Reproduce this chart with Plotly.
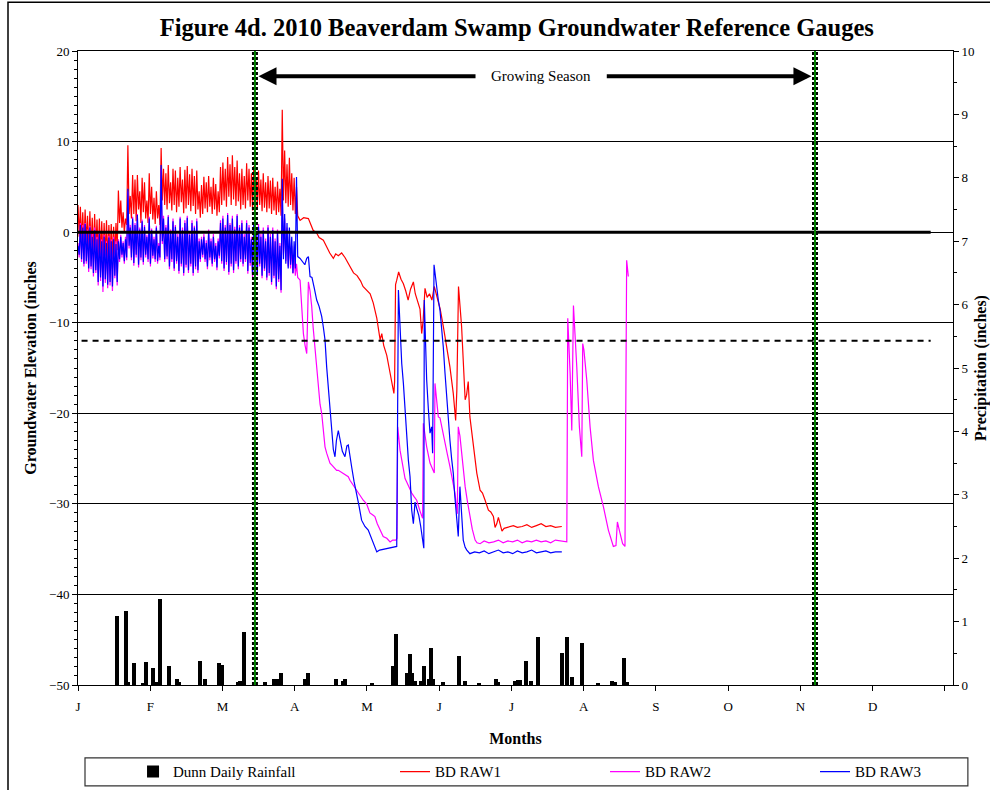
import plotly.graph_objects as go

FONT = "Liberation Serif, Times New Roman, serif"

MONTH_LABELS = ["J", "F", "M", "A", "M", "J", "J", "A", "S", "O", "N", "D", ""]
YEAR_DAYS = 365

GROWING_START = 74.5   # day of year (mid March)
GROWING_END = 310.3    # day of year (early November)
ZERO_LEVEL = 0
THRESHOLD_LEVEL = -12
LINE_END_DAY = 359

# ---- Dunn daily rainfall (day of year, inches) ----
rain_day = [16.3, 20.2, 21.2, 23.6, 27.5, 28.6, 31.6, 32.8, 34.5, 38.4, 41.6, 42.5,
            51.4, 53.5, 59.2, 60.6, 67.2, 68.2, 69.8, 78.7, 82.7, 83.9, 85.6, 95.6,
            96.7, 108.5, 111.5, 112.5, 123.8, 132.8, 133.9, 138.7, 139.7, 140.8, 141.9,
            144.5, 145.7, 147.7, 148.6, 149.6, 153.6, 160.5, 163.1, 169.0, 175.9, 177.0,
            184.0, 185.3, 186.1, 188.8, 190.7, 193.8, 203.7, 205.8, 208.1, 212.2, 219.1,
            225.0, 226.1, 230.0, 231.3]
rain_in = [1.09, 1.17, 0.04, 0.34, 0.03, 0.36, 0.27, 0.04, 1.36, 0.30, 0.09, 0.05,
           0.38, 0.10, 0.34, 0.32, 0.04, 0.07, 0.84, 0.05, 0.10, 0.10, 0.19, 0.10,
           0.19, 0.10, 0.06, 0.10, 0.03, 0.30, 0.80, 0.19, 0.49, 0.19, 0.07,
           0.07, 0.30, 0.10, 0.58, 0.10, 0.04, 0.45, 0.06, 0.03, 0.09, 0.04,
           0.06, 0.08, 0.08, 0.38, 0.06, 0.75, 0.51, 0.75, 0.13, 0.67, 0.03,
           0.07, 0.05, 0.43, 0.05]

# ---- Jan 1 - Apr 2: daily high / low readings (inches) ----
raw1_hi = [3.0, 2.8, 2.2, 2.5, 1.8, 2.3, 1.6, 2.0, 1.4, 1.5, 1.2, 1.0, 1.3, 0.8, 0.9, 0.6, 1.0,
           4.6, 3.5, 2.2, 1.5, 9.6, 4.0, 6.3, 5.8, 6.3, 4.5, 6.0, 5.5, 3.5, 6.5, 5.0, 3.8, 4.5,
           3.0, 9.3, 7.0, 6.5, 7.4, 5.5, 7.0, 6.8, 6.0, 7.2, 5.8, 6.9, 7.3, 6.4, 7.0, 6.2, 6.8,
           4.5, 5.2, 6.1, 5.5, 6.2, 5.0, 6.0, 5.3, 4.5, 7.2, 7.7, 7.0, 8.3, 7.5, 8.5, 7.2, 7.9,
           6.5, 7.0, 6.2, 7.6, 7.0, 6.5, 7.3, 6.0, 6.8, 5.8, 6.5, 5.5, 6.2, 5.7, 6.0, 5.0, 5.6,
           4.8, 13.5, 9.0, 7.5, 8.2, 6.5, 6.0, 5.0]
raw1_lo = [-0.5, -1.0, -1.5, -1.2, -2.0, -1.8, -2.5, -2.0, -2.8, -2.5, -3.0, -2.6, -3.2, -2.8,
           -3.0, -2.5, -2.0, 1.0, 0.5, 0.0, 0.8, 2.0, 1.5, 2.0, 1.2, 2.5, 1.0, 2.2, 1.5, 1.0,
           2.0, 1.4, 0.9, 1.5, 0.8, 3.5, 3.0, 2.5, 3.2, 2.4, 3.0, 2.2, 2.8, 3.3, 2.1, 2.6, 3.0,
           2.3, 2.9, 2.0, 2.5, 1.6, 2.0, 2.6, 2.2, 2.8, 2.0, 2.5, 1.8, 2.2, 3.0, 3.5, 2.8, 3.9,
           3.0, 3.6, 2.9, 3.4, 2.5, 3.0, 2.6, 3.5, 2.8, 2.4, 3.2, 2.6, 3.0, 2.3, 2.7, 2.2, 2.6,
           2.0, 2.4, 1.9, 2.2, 1.8, 3.5, 3.2, 2.8, 3.0, 2.4, 2.0, 1.8]

raw2_hi = [-1.2, 1.0, 0.8, 1.0, 0.3, 0.7, -0.2, 0.5, -0.5, 0.0, -0.8, -0.3, -1.0, -0.4, -0.8,
           -0.5, -1.0, -0.8, -0.3, -1.0, -0.5, 4.5, 0.8, 1.7, 1.0, 2.0, 0.5, 1.4, 0.8, -0.3,
           1.7, 0.4, -0.5, 0.7, -1.2, 7.0, 1.8, 0.8, 1.9, 0.3, 1.5, 0.8, -0.2, 1.7, 0.5, 1.3,
           1.8, 0.0, 1.3, 0.7, 1.5, -0.7, -0.5, -0.2, -0.9, 0.3, -0.7, -0.2, -1.2, -0.7, 1.3,
           1.8, 0.8, 2.1, 1.0, 1.8, 0.6, 2.0, 0.8, 1.3, -0.2, 1.3, 0.8, -0.5, 1.1, 0.0, 0.9,
           -0.2, 0.5, -0.7, 0.8, -0.2, 0.5, -0.7, 0.3, -1.2, 4.0, 1.5, 0.5, -0.5, -1.5, -2.5,
           -3.5]
raw2_lo = [-2.8, -3.3, -3.8, -3.5, -4.4, -4.1, -4.9, -4.5, -5.9, -5.4, -6.6, -5.6, -6.2, -5.9,
           -6.5, -5.1, -5.9, -3.3, -2.8, -3.5, -3.1, -1.8, -3.1, -3.7, -2.8, -3.9, -3.1, -3.6,
           -2.8, -3.3, -3.8, -2.9, -3.3, -3.5, -3.1, -1.3, -3.3, -3.0, -4.1, -3.3, -4.3, -3.5,
           -4.6, -3.8, -4.8, -3.9, -4.5, -3.8, -4.8, -4.1, -4.5, -3.3, -2.8, -3.3, -4.1, -3.1,
           -3.8, -3.3, -4.2, -2.9, -3.5, -4.3, -3.6, -4.7, -3.8, -4.5, -3.5, -4.1, -3.3, -3.8,
           -3.3, -4.6, -3.7, -5.0, -4.1, -4.8, -3.8, -5.1, -4.3, -5.3, -4.8, -5.8, -5.1, -6.3,
           -5.5, -6.7, -2.5, -3.2, -3.8, -4.0, -4.6, -4.8, -5.0]

raw3_hi = [-1.5, 0.8, 0.5, 0.9, 0.0, 0.5, -0.5, 0.2, -0.8, -0.2, -1.0, -0.5, -1.2, -0.6, -1.0,
           -0.8, -1.3, -1.0, -0.5, -1.2, -0.8, 4.8, 0.5, 1.5, 0.8, 1.9, 0.3, 1.2, 0.6, -0.5,
           1.5, 0.2, -0.8, 0.5, -1.5, 7.4, 1.5, 0.5, 1.7, 0.0, 1.2, 0.6, -0.5, 1.5, 0.2, 1.0,
           1.6, -0.3, 1.0, 0.5, 1.2, -1.0, -0.8, -0.5, -1.2, 0.0, -1.0, -0.5, -1.5, -1.0, 1.0,
           1.5, 0.5, 1.9, 0.8, 1.5, 0.3, 1.8, 0.5, 1.0, -0.5, 1.0, 0.5, -0.8, 0.8, -0.3, 0.6,
           -0.5, 0.2, -1.0, 0.5, -0.5, 0.2, -1.0, 0.0, -1.5, 5.9, 2.0, 1.0, 0.5, -0.5, -1.0,
           6.1]
raw3_lo = [-2.5, -3.0, -3.5, -3.2, -4.0, -3.8, -4.5, -4.2, -5.5, -5.0, -6.0, -5.2, -5.8, -5.5,
           -6.0, -4.8, -5.5, -3.0, -2.5, -3.2, -2.8, -1.5, -2.8, -3.4, -2.5, -3.6, -2.8, -3.3,
           -2.5, -3.0, -3.5, -2.6, -3.0, -3.2, -2.8, -1.0, -3.0, -2.7, -3.8, -3.0, -4.0, -3.2,
           -4.3, -3.5, -4.5, -3.6, -4.2, -3.5, -4.5, -3.8, -4.2, -3.0, -2.5, -3.0, -3.8, -2.8,
           -3.5, -3.0, -3.9, -2.6, -3.2, -4.0, -3.3, -4.4, -3.5, -4.2, -3.2, -3.8, -3.0, -3.5,
           -3.0, -4.3, -3.4, -4.7, -3.8, -4.5, -3.5, -4.8, -4.0, -5.0, -4.5, -5.5, -4.8, -6.0,
           -5.2, -6.4, -3.0, -3.5, -4.0, -3.6, -4.5, -4.0, -2.7]

# ---- From Apr 3 onward: individual readings (day of year, inches) ----
raw1_tail_day = [93.5, 95, 97, 99, 100.5, 101.5, 103.3, 105, 106, 107.5, 108.5, 109.6, 111,
                 112.4, 113.5, 115, 116, 117.5, 119, 120, 121.6, 123, 124.3, 125.8, 127.2,
                 127.9, 128.7, 130, 131, 132, 133, 133.3, 133.7, 134.2, 135, 136, 137, 138,
                 139, 140, 141.2, 142, 143, 144, 144.7, 145.3, 146.1, 147, 148, 149, 150,
                 151, 152.5, 153.8, 155.2, 156.6, 158, 159, 159.5, 160.2, 161.5, 162.2, 163,
                 163.6, 164.3, 165, 166.4, 167.9, 169.3, 170.3, 171.4, 172.8, 173.8, 174.9,
                 175.6, 176.3, 177, 177.8, 178.5, 179.4, 181, 183.3, 185, 187, 189, 191, 193,
                 195, 197, 199, 201, 203.7]
raw1_tail_val = [1.3, 1.6, 1.5, 0.2, -0.1, -0.6, -0.9, -1.8, -2.3, -2.9, -2.4, -2.6, -2.3,
                 -2.8, -3.3, -4.0, -4.5, -4.8, -5.4, -6.0, -6.4, -6.8, -7.8, -9.5, -11.9,
                 -11.2, -12.5, -13.6, -15.0, -16.3, -17.8, -16.5, -5.8, -5.3, -4.4, -5.2,
                 -5.7, -6.5, -7.5, -6.3, -5.5, -6.8, -7.8, -8.5, -11.2, -9.8, -6.2, -7.2,
                 -6.8, -7.5, -6.0, -7.0, -8.5, -10.4, -12.7, -14.9, -17.8, -20.8, -17.5,
                 -6.0, -10.4, -14.1, -18.5, -18.0, -16.5, -20.4, -23.3, -26.6, -28.5, -28.8,
                 -29.6, -30.7, -30.9, -31.4, -32.6, -32.2, -31.5, -32.4, -33.0, -32.7, -32.6,
                 -32.4, -32.6, -32.5, -32.3, -32.6, -32.4, -32.2, -32.5, -32.4, -32.6, -32.5]

raw2_tail_day = [93.5, 94.2, 94.9, 95.6, 96.3, 96.7, 97, 97.7, 98.4, 99, 99.8, 100.5, 101.2,
                 101.9, 102.6, 103.3, 104, 104.7, 105.5, 106.1, 106.8, 107.8, 108.9, 109.6,
                 110.7, 111.7, 112.8, 113.8, 114.5, 115.5, 117.3, 118.7, 120.1, 121.5, 122.9,
                 124, 125, 126, 127.2, 128.5, 130, 131.4, 132.5, 133.9, 134.3, 134.6, 135.6,
                 136.3, 137.7, 138.4, 139.8, 140.5, 141.5, 142.6, 144, 145.1, 145.4, 146.8,
                 148.2, 149.6, 150, 150.3, 151, 151.7, 152.4, 153.5, 154.5, 155.5, 156.6,
                 157.7, 158.7, 159.7, 160.1, 160.8, 161.5, 162.2, 163, 164, 165, 166, 167.2,
                 168, 169.3, 171, 173, 175, 177, 179, 181, 183, 185, 187, 189, 191, 193, 195,
                 197, 199, 201, 203, 205.8, 206.2, 207.2, 207.9, 208.6, 210, 211.1, 212.1,
                 212.5, 213, 214.2, 215.6, 217, 219.1, 221.2, 223.3, 224.4, 225.4, 226.5,
                 227.1, 228, 229.3, 230.3, 231, 231.7]
raw2_tail_val = [-5.3, -8.0, -11.2, -12.5, -13.4, -9.0, -5.5, -6.5, -8.2, -10.5, -12.7, -15.0,
                 -17.4, -19.0, -20.0, -22.0, -23.7, -24.4, -25.0, -25.5, -25.7, -26.0, -26.3,
                 -26.3, -26.5, -26.6, -26.9, -27.0, -27.4, -27.8, -28.5, -29.0, -29.6, -30.0,
                 -31.0, -31.2, -31.4, -32.2, -32.9, -33.6, -33.8, -34.2, -34.0, -34.0, -33.8,
                 -21.5, -24.1, -25.2, -27.2, -27.6, -28.5, -28.8, -29.2, -29.6, -30.8, -31.6,
                 -21.1, -23.7, -25.5, -26.4, -26.6, -16.7, -18.5, -20.4, -20.5, -21.8, -23.0,
                 -24.5, -25.9, -27.4, -28.8, -31.1, -21.5, -22.5, -24.4, -26.2, -28.1, -29.8,
                 -31.4, -32.8, -34.0, -34.3, -34.4, -34.1, -34.3, -34.2, -34.0, -34.3, -34.1,
                 -34.2, -34.0, -34.3, -34.1, -34.2, -34.0, -34.2, -34.1, -34.3, -34.0, -34.1,
                 -34.2, -9.5, -15.6, -21.9, -8.1, -14.9, -21.5, -24.8, -12.3, -13.0, -16.3,
                 -21.5, -25.2, -28.1, -30.3, -32.9, -34.0, -34.7, -34.6, -32.0, -33.0, -34.4,
                 -34.7, -3.1, -4.9]

raw3_tail_day = [93.5, 94.5, 95.5, 96.3, 97, 97.7, 98.5, 99.5, 100.5, 101.5, 102.6, 103.3,
                 104, 104.7, 105.4, 106.1, 106.8, 107.5, 108.2, 108.8, 109.6, 110.5, 111.3,
                 112.4, 113.2, 113.8, 114.5, 115.2, 116.2, 117.3, 118.3, 119.4, 120.8, 122.2,
                 123.7, 124.8, 125.8, 127, 128.5, 130, 131.5, 133, 134.2, 134.9, 135.5, 136.3,
                 137, 137.7, 138.4, 139.1, 139.8, 140.5, 141.2, 141.9, 142.6, 143.5, 144.3,
                 145, 145.6, 145.8, 146.3, 146.8, 147.5, 148.2, 148.9, 149.3, 149.9, 150.5,
                 151, 151.7, 152.4, 153.1, 153.8, 154.5, 155.2, 155.9, 156.6, 157.3, 158,
                 158.6, 159.2, 160.1, 160.8, 161.5, 162.2, 163, 163.7, 165, 167, 169, 171, 173,
                 175, 177, 179, 181, 183, 185, 187, 189, 191, 193, 195, 197, 199, 201, 203.7]
raw3_tail_val = [-2.9, -3.2, -3.6, -2.9, -2.7, -4.9, -5.0, -6.2, -7.5, -8.2, -9.3, -10.5,
                 -11.9, -14.9, -17.1, -19.3, -21.5, -24.0, -24.8, -23.0, -21.9, -23.2, -24.2,
                 -24.8, -23.6, -23.5, -25.0, -25.9, -27.5, -28.8, -30.2, -31.8, -32.5, -32.9,
                 -34.0, -34.8, -35.3, -35.1, -35.0, -34.9, -34.8, -34.7, -34.7, -6.4, -10.1,
                 -14.5, -16.7, -20.0, -22.2, -25.2, -27.0, -30.7, -32.2, -29.8, -30.5, -31.3,
                 -32.5, -33.8, -34.9, -7.5, -12.0, -16.3, -19.5, -22.2, -21.5, -24.4, -3.6,
                 -5.0, -6.0, -7.5, -8.6, -10.5, -12.7, -15.5, -18.2, -20.5, -23.0, -25.0,
                 -26.6, -29.0, -31.1, -33.6, -28.1, -31.0, -34.0, -34.8, -35.1, -35.5, -35.3,
                 -35.4, -35.2, -35.5, -35.3, -35.1, -35.4, -35.3, -35.5, -35.2, -35.4, -35.3,
                 -35.1, -35.4, -35.3, -35.2, -35.4, -35.3, -35.3]


def series(hi, lo, tail_day, tail_val):
    days, vals = [], []
    for d, (h, l) in enumerate(zip(hi, lo)):
        days += [d, d + 0.5]
        vals += [h, l]
    return days + tail_day, vals + tail_val


fig = go.Figure()

fig.add_trace(go.Bar(x=rain_day, y=rain_in, yaxis="y2", width=1.7, name="Dunn Daily Rainfall",
                     legend="legend", marker=dict(color="black", line=dict(width=0))))

for name, color, hi, lo, td, tv, lg in [
    ("BD RAW1", "#ff0000", raw1_hi, raw1_lo, raw1_tail_day, raw1_tail_val, "legend2"),
    ("BD RAW2", "#ff00ff", raw2_hi, raw2_lo, raw2_tail_day, raw2_tail_val, "legend3"),
    ("BD RAW3", "#0000ff", raw3_hi, raw3_lo, raw3_tail_day, raw3_tail_val, "legend4"),
]:
    x, y = series(hi, lo, td, tv)
    fig.add_trace(go.Scatter(x=x, y=y, mode="lines", name=name, legend=lg,
                             line=dict(color=color, width=1.2)))

fig.add_trace(go.Scatter(x=[0, LINE_END_DAY], y=[ZERO_LEVEL, ZERO_LEVEL], mode="lines",
                         line=dict(color="black", width=3), showlegend=False, hoverinfo="skip"))
fig.add_trace(go.Scatter(x=[1.5, LINE_END_DAY], y=[THRESHOLD_LEVEL, THRESHOLD_LEVEL], mode="lines",
                         line=dict(color="black", width=2, dash="6px,5px"), showlegend=False,
                         hoverinfo="skip"))

shapes = []
for gx in (GROWING_START, GROWING_END):
    shapes.append(dict(type="line", xref="x", yref="paper", x0=gx, x1=gx, y0=0, y1=1,
                       line=dict(color="black", width=6, dash="3px,2px")))
    shapes.append(dict(type="line", xref="x", yref="paper", x0=gx, x1=gx, y0=0, y1=1,
                       line=dict(color="#008000", width=2)))
# outer chart frame
shapes.append(dict(type="rect", xref="paper", yref="paper", x0=-0.080, x1=1.06, y0=-0.2, y1=1.077,
                   line=dict(color="black", width=1.5), layer="below"))
# legend frame
shapes.append(dict(type="rect", xref="paper", yref="paper", x0=0.008, x1=1.017, y0=-0.159, y1=-0.115,
                   line=dict(color="#333333", width=1.2), layer="below"))

ARROW_Y = 17.2
annotations = [
    dict(x=GROWING_START + 1.5, y=ARROW_Y, ax=168, ay=ARROW_Y, axref="x", ayref="y", xref="x", yref="y",
         text="", showarrow=True, arrowhead=2, arrowsize=0.9, arrowwidth=4, arrowcolor="black"),
    dict(x=GROWING_END - 1.5, y=ARROW_Y, ax=222, ay=ARROW_Y, axref="x", ayref="y", xref="x", yref="y",
         text="", showarrow=True, arrowhead=2, arrowsize=0.9, arrowwidth=4, arrowcolor="black"),
    dict(x=195, y=ARROW_Y, xref="x", yref="y", text="Growing Season", showarrow=False,
         font=dict(family=FONT, size=15, color="black")),
]

month_ticks = [k * YEAR_DAYS / 12 for k in range(13)]

legend_common = dict(orientation="h", xanchor="left", y=-0.137, yanchor="middle",
                     bgcolor="rgba(0,0,0,0)", borderwidth=0,
                     font=dict(family="Liberation Serif", size=15, color="black"))

fig.update_layout(
    width=990, height=790,
    margin=dict(l=78, r=37, t=51, b=105, autoexpand=False),
    paper_bgcolor="white", plot_bgcolor="white",
    font=dict(family=FONT, size=13, color="black"),
    title=dict(text="<b>Figure 4d. 2010 Beaverdam Swamp Groundwater Reference Gauges</b>",
               x=0.522, xanchor="center", y=0.965, yanchor="middle",
               font=dict(family=FONT, size=24.5, color="black")),
    bargap=0,
    showlegend=True,
    legend=dict(x=0.0629, **legend_common),
    legend2=dict(x=0.3623, **legend_common),
    legend3=dict(x=0.6023, **legend_common),
    legend4=dict(x=0.8423, **legend_common),
    xaxis=dict(range=[0, 368.4], tickvals=month_ticks, ticktext=MONTH_LABELS,
               ticks="outside", ticklen=5, tickcolor="black", showline=True, linecolor="black",
               linewidth=1, mirror=True, showgrid=False, zeroline=False, ticklabelstandoff=4,
               automargin=False, tickfont=dict(family=FONT, size=13),
               title=dict(text="<b>Months</b>", font=dict(family=FONT, size=16), standoff=20)),
    yaxis=dict(range=[-50, 20], dtick=10, ticks="outside", ticklen=5, tickcolor="black",
               minor=dict(dtick=1, ticks="outside", ticklen=3, tickcolor="black", showgrid=False),
               showline=True, linecolor="black", linewidth=1, showgrid=True, gridcolor="black",
               gridwidth=1, zeroline=False, automargin=False, tickfont=dict(family=FONT, size=13),
               title=dict(text="<b>Groundwater Elevation (inches</b>", font=dict(family=FONT, size=16),
                          standoff=8)),
    yaxis2=dict(range=[0, 10], dtick=1, overlaying="y", side="right", ticks="outside", ticklen=5,
                tickcolor="black",
                minor=dict(dtick=0.5, ticks="outside", ticklen=3, tickcolor="black", showgrid=False),
                showline=True, linecolor="black", linewidth=1, showgrid=False, zeroline=False,
                automargin=False, tickfont=dict(family=FONT, size=13),
                title=dict(text="<b>Precipitation (inches)</b>", font=dict(family=FONT, size=16),
                           standoff=6)),
    shapes=shapes,
    annotations=annotations,
)

fig.write_html("out.html", config={"displayModeBar": False},
               post_script="document.body.style.margin='0';document.body.style.overflow='hidden';")
